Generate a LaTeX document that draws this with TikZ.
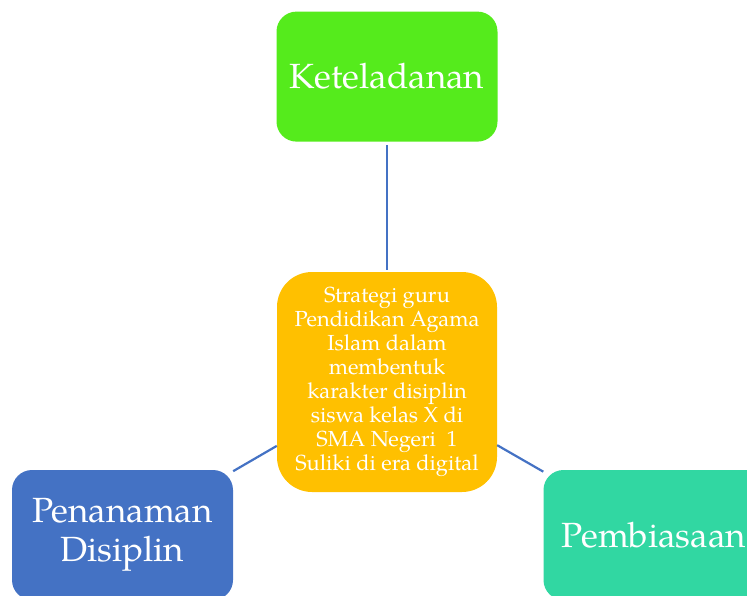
\documentclass[tikz,border=0pt]{standalone}
\usepackage{fontspec}
\setmainfont{TeX Gyre Pagella}
\usepackage{tikz}
\usetikzlibrary{positioning}

\definecolor{strategi}{HTML}{FFC000}
\definecolor{teladan}{HTML}{55EB1C}
\definecolor{disiplin}{HTML}{4472C4}
\definecolor{biasa}{HTML}{31D7A2}

\begin{document}
\begin{tikzpicture}[
    x=1pt, y=-1pt,
    box/.style={rectangle, draw=none, text=white, align=center, inner sep=0pt},
    core/.style={box, fill=strategi, rounded corners=35pt, minimum width=220pt, minimum height=220pt, font=\fontsize{21.8}{24}\selectfont},
    branch/.style={box, rounded corners=20pt, minimum width=221pt, minimum height=130pt, font=\fontsize{35}{39}\selectfont},
    link/.style={draw=disiplin, line width=2.2pt}
]
\useasboundingbox (0,0) rectangle (747,595);
\clip (0,0) rectangle (747,595);

% Centre
\node[core] (strat) at (387,382) {Strategi guru\\Pendidikan Agama\\Islam dalam\\membentuk\\karakter disiplin\\siswa kelas X di\\SMA Negeri~~1\\Suliki di era digital};

% Branches
\node[branch, fill=teladan, above=130pt of strat] (tel) {Keteladanan};
\node[branch, fill=disiplin] (pen) at (122.5,535) {Penanaman\\Disiplin};
\node[branch, fill=biasa] (pem) at (654,535) {Pembiasaan};

% Links
\draw[link, shorten <=3pt, shorten >=2pt] (tel) -- (strat);
\draw[link] (strat) -- (pen);
\draw[link] (strat) -- (pem);

\end{tikzpicture}
\end{document}
